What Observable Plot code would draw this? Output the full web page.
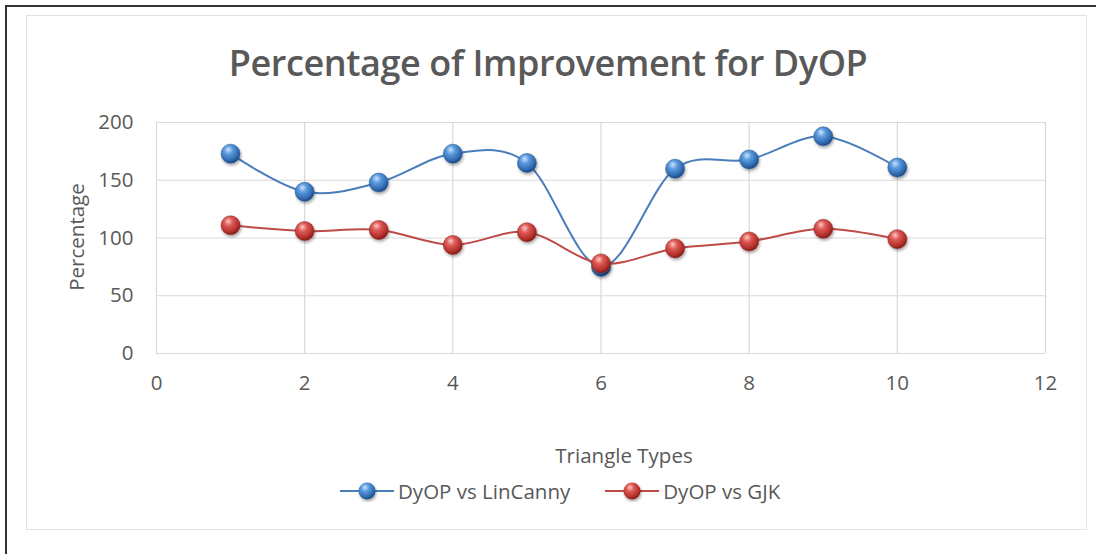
<!DOCTYPE html>
<html>
<head>
<meta charset="utf-8">
<script src="https://cdn.jsdelivr.net/npm/d3@7"></script>
<script src="https://cdn.jsdelivr.net/npm/@observablehq/plot@0.6"></script>
<style>
  html, body { margin: 0; padding: 0; background: #fff; }
  #wrap { position: relative; width: 1096px; height: 554px; overflow: hidden; font-family: "Open Sans", sans-serif; color: #595959; }
  #outer { position: absolute; left: 5px; top: 5px; width: 1200px; height: 700px; border-left: 2px solid #333; border-top: 2px solid #333; }
  #inner { position: absolute; left: 26px; top: 15px; width: 1059px; height: 513px; border: 1.5px solid #e2e2e2; }
  #chart { position: absolute; left: 0; top: 0; }
  .txt { position: absolute; white-space: nowrap; transform: translate(-50%, -50%); }
  #title { left: 548px; top: 62px; font-size: 36px; font-weight: 600; letter-spacing: -0.4px; }
  #ytitle { left: 76px; top: 237px; font-size: 20.5px; transform: translate(-50%, -50%) rotate(-90deg); }
  #xtitle { left: 624px; top: 455px; font-size: 20.5px; }
  #legend { position: absolute; left: 340px; top: 477px; font-size: 20.5px; display: flex; align-items: center; gap: 0; }
  .item { display: flex; align-items: center; margin-right: 35px; }
  .item svg { margin-right: 4px; }
</style>
</head>
<body>
<svg width="0" height="0" style="position:absolute">
  <defs>
    <radialGradient id="ballBlue" cx="0.4" cy="0.35" r="0.65" fx="0.38" fy="0.28">
      <stop offset="0" stop-color="#cfe3fb"/>
      <stop offset="0.35" stop-color="#5b9be0"/>
      <stop offset="0.85" stop-color="#2b63a8"/>
      <stop offset="1" stop-color="#1c4680"/>
    </radialGradient>
    <radialGradient id="ballRed" cx="0.4" cy="0.35" r="0.65" fx="0.38" fy="0.28">
      <stop offset="0" stop-color="#f9c9c6"/>
      <stop offset="0.35" stop-color="#df5a55"/>
      <stop offset="0.85" stop-color="#ad2b27"/>
      <stop offset="1" stop-color="#7c1a17"/>
    </radialGradient>
    <filter id="shadow" x="-50%" y="-50%" width="200%" height="200%">
      <feGaussianBlur in="SourceAlpha" stdDeviation="1.5"/>
      <feOffset dx="0.5" dy="1.5" result="b"/>
      <feComponentTransfer><feFuncA type="linear" slope="0.35"/></feComponentTransfer>
      <feMerge><feMergeNode/><feMergeNode in="SourceGraphic"/></feMerge>
    </filter>
  </defs>
</svg>
<div id="wrap">
  <div id="outer"></div>
  <div id="inner"></div>
  <div id="chart"></div>
  <div id="title" class="txt">Percentage of Improvement for DyOP</div>
  <div id="ytitle" class="txt">Percentage</div>
  <div id="xtitle" class="txt">Triangle Types</div>
  <div id="legend"></div>
</div>
<script>
const triangleTypes = [1, 2, 3, 4, 5, 6, 7, 8, 9, 10];
const linCanny = [173, 140, 148, 173, 165, 75, 160, 168, 188, 161];
const gjk = [111, 106, 107, 94, 105, 78, 91, 97, 108, 99];
const seriesNames = ["DyOP vs LinCanny", "DyOP vs GJK"];
const xTicks = [0, 2, 4, 6, 8, 10, 12];
const yTicks = [0, 50, 100, 150, 200];

const colors = {"DyOP vs LinCanny": "#4a7ebb", "DyOP vs GJK": "#be4b48"};
const balls = {"DyOP vs LinCanny": "url(#ballBlue)", "DyOP vs GJK": "url(#ballRed)"};

const data = [
  ...triangleTypes.map((t, i) => ({type: t, value: linCanny[i], series: seriesNames[0]})),
  ...triangleTypes.map((t, i) => ({type: t, value: gjk[i], series: seriesNames[1]}))
];

const chart = Plot.plot({
  width: 1096,
  height: 554,
  marginLeft: 156,
  marginRight: 51,
  marginTop: 122,
  marginBottom: 201,
  style: {fontFamily: "Open Sans, sans-serif", fontSize: "20.5px", color: "#595959", background: "transparent", overflow: "visible"},
  x: {domain: [0, 12], ticks: xTicks},
  y: {domain: [0, 200], ticks: yTicks},
  marks: [
    Plot.gridX(xTicks, {stroke: "#d9d9d9", strokeOpacity: 1, strokeWidth: 1.2}),
    Plot.gridY(yTicks, {stroke: "#d9d9d9", strokeOpacity: 1, strokeWidth: 1.2}),
    Plot.axisX({ticks: xTicks, tickSize: 0, tickPadding: 22, label: null, fill: "#595959"}),
    Plot.axisY({ticks: yTicks, tickSize: 0, tickPadding: 23, label: null, fill: "#595959"}),
    Plot.line(data.filter(d => d.series === seriesNames[0]), {x: "type", y: "value", stroke: colors[seriesNames[0]], strokeWidth: 2, curve: "cardinal"}),
    Plot.line(data.filter(d => d.series === seriesNames[1]), {x: "type", y: "value", stroke: colors[seriesNames[1]], strokeWidth: 2, curve: "cardinal"}),
    Plot.dot(data.filter(d => d.series === seriesNames[0]), {x: "type", y: "value", r: 9.5, fill: balls[seriesNames[0]], stroke: "#2f5f99", strokeWidth: 0.6}),
    Plot.dot(data.filter(d => d.series === seriesNames[1]), {x: "type", y: "value", r: 9.5, fill: balls[seriesNames[1]], stroke: "#962f2c", strokeWidth: 0.6})
  ]
});
chart.querySelectorAll("circle").forEach(c => c.setAttribute("filter", "url(#shadow)"));
document.getElementById("chart").appendChild(chart);

const legend = document.getElementById("legend");
seriesNames.forEach(name => {
  const item = document.createElement("div");
  item.className = "item";
  item.innerHTML = `<svg width="54" height="22"><line x1="0" x2="54" y1="11" y2="11" stroke="${colors[name]}" stroke-width="2"/><circle cx="27" cy="11" r="8.5" fill="${balls[name]}" filter="url(#shadow)"/></svg><span>${name}</span>`;
  legend.appendChild(item);
});
</script>
</body>
</html>
